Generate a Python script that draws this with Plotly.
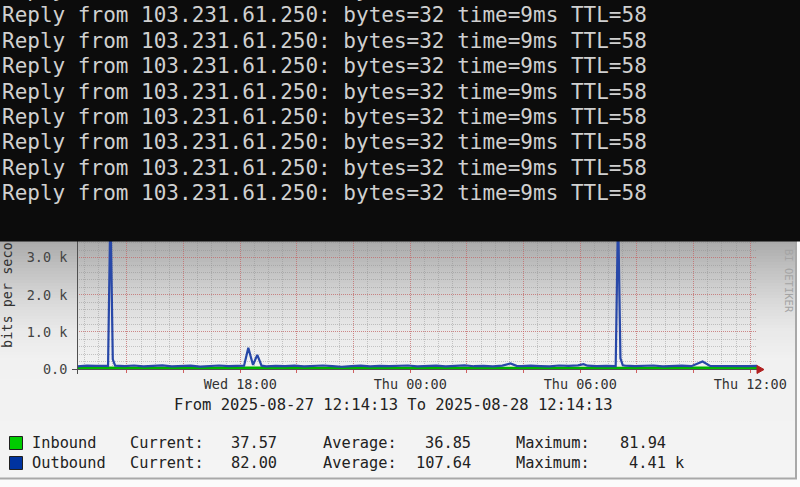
import pandas as pd
import plotly.graph_objects as go

W, H = 800, 487

# ---------------- data ----------------
start_time = "2025-08-27 12:15"
end_range = ["2025-08-27 12:14:13", "2025-08-28 12:14:13"]

# Outbound (bits per second), minutes since start_time
out_minutes = [0, 20, 40, 60, 65, 70, 75, 80, 100, 120, 140, 160, 180, 200, 220, 240,
               260, 280, 300, 320, 340, 353, 362, 372, 381, 390, 400, 420, 440, 460,
               480, 500, 520, 540, 560, 580, 600, 620, 640, 660, 680, 700, 720, 740,
               760, 780, 800, 820, 840, 860, 880, 900, 917, 930, 940, 960, 980, 1000,
               1020, 1040, 1060, 1072, 1080, 1100, 1120, 1140, 1145, 1150, 1155, 1160,
               1180, 1200, 1220, 1240, 1260, 1280, 1300, 1324, 1340, 1360, 1380, 1400,
               1420, 1440]
out_values = [70, 90, 85, 80, 85, 4410, 260, 90, 75, 95, 70, 85, 100, 70, 80, 90,
              65, 85, 95, 75, 80, 90, 570, 110, 380, 90, 70, 85, 75, 90,
              70, 80, 95, 75, 60, 80, 90, 70, 85, 75, 80, 95, 70, 85,
              90, 70, 80, 100, 75, 85, 70, 90, 150, 85, 75, 90, 80, 70,
              95, 85, 100, 130, 90, 75, 85, 80, 4300, 290, 100, 90,
              80, 85, 95, 70, 80, 90, 75, 200, 85, 80, 75, 90,
              80, 85]

# Inbound (bits per second), every 30 minutes since start_time
in_minutes = [0, 30, 60, 90, 120, 150, 180, 210, 240, 270, 300, 330, 360, 390, 420,
              450, 480, 510, 540, 570, 600, 630, 660, 690, 720, 750, 780, 810, 840,
              870, 900, 930, 960, 990, 1020, 1050, 1080, 1110, 1140, 1170, 1200,
              1230, 1260, 1290, 1320, 1350, 1380, 1410, 1440]
in_values = [38, 36, 40, 35, 37, 42, 36, 34, 39, 37, 41, 36, 35, 38, 40,
             37, 36, 39, 38, 35, 37, 40, 36, 38, 34, 37, 39, 36, 38,
             35, 37, 40, 36, 38, 37, 39, 35, 36, 38, 37, 36,
             39, 37, 36, 38, 35, 37, 36, 38]

y_tickvals = [0, 1000, 2000, 3000]
y_ticktext = ["0.0", "1.0 k", "2.0 k", "3.0 k"]
x_tickvals = ["2025-08-27 14:00", "2025-08-27 16:00", "2025-08-27 18:00",
              "2025-08-27 20:00", "2025-08-27 22:00", "2025-08-28 00:00",
              "2025-08-28 02:00", "2025-08-28 04:00", "2025-08-28 06:00",
              "2025-08-28 08:00", "2025-08-28 10:00", "2025-08-28 12:00"]
x_ticktext = ["", "", "Wed 18:00", "", "", "Thu 00:00", "", "", "Thu 06:00",
              "", "", "Thu 12:00"]

terminal_lines = ["Reply from 103.231.61.250: bytes=32 time=9ms TTL=58"] * 9

legend_names = ["Inbound", "Outbound"]
legend_colors = ["#00cc00", "#0033a0"]
current_vals = ["37.57", "82.00"]
average_vals = ["36.85", "107.64"]
maximum_vals = ["81.94", "4.41 k"]

title_text = "From 2025-08-27 12:14:13 To 2025-08-28 12:14:13"

# ---------------- helpers ----------------
def px(x):
    return x / W

def py(y):
    return 1 - y / H

t0 = pd.Timestamp(start_time)
out_t = [t0 + pd.Timedelta(minutes=m) for m in out_minutes]
in_t = [t0 + pd.Timedelta(minutes=m) for m in in_minutes]

MONO = "DejaVu Sans Mono"
PLOT_L, PLOT_R, PLOT_T, PLOT_B = 77, 757, 241, 369
Y_TOP = 3450

fig = go.Figure()
fig.add_trace(go.Scatter(x=in_t, y=in_values, mode="lines", fill="tozeroy",
                         line=dict(color="#00b000", width=2),
                         fillcolor="#00cc00", hoverinfo="skip", showlegend=False))
fig.add_trace(go.Scatter(x=out_t, y=out_values, mode="lines",
                         line=dict(color="#2848a8", width=2.2),
                         hoverinfo="skip", showlegend=False))

shapes = []
# gradient background of the graph image
def grad(y):
    stops = [(241, 170), (270, 194), (300, 216), (330, 233), (360, 241), (480, 244)]
    for (y1, c1), (y2, c2) in zip(stops, stops[1:]):
        if y1 <= y <= y2:
            return int(round(c1 + (c2 - c1) * (y - y1) / (y2 - y1)))
    return 244

yy = 241
while yy < 478:
    c = grad(yy + 1.5)
    shapes.append(dict(type="rect", xref="paper", yref="paper", layer="below",
                       x0=0, x1=px(795), y0=py(min(yy + 3, 478)), y1=py(yy),
                       fillcolor=f"rgb({c},{c},{c})", line=dict(width=0)))
    yy += 3

# border of the graph image
shapes.append(dict(type="line", xref="paper", yref="paper", layer="above",
                   x0=px(796), x1=px(796), y0=py(479), y1=py(241),
                   line=dict(color="#a8a8a8", width=2)))
shapes.append(dict(type="line", xref="paper", yref="paper", layer="above",
                   x0=0, x1=px(797), y0=py(478.5), y1=py(478.5),
                   line=dict(color="#a8a8a8", width=2)))

# axis lines
shapes.append(dict(type="line", xref="paper", yref="paper", layer="above",
                   x0=px(72), x1=px(757), y0=py(369.5), y1=py(369.5),
                   line=dict(color="#505050", width=1)))
shapes.append(dict(type="line", xref="paper", yref="paper", layer="above",
                   x0=px(77.5), x1=px(77.5), y0=py(374), y1=py(241),
                   line=dict(color="#505050", width=1)))
# arrow at the end of the x axis
shapes.append(dict(type="path", xref="paper", yref="paper", layer="above",
                   path=f"M {px(757)} {py(365.5)} L {px(764)} {py(369.5)} L {px(757)} {py(373.5)} Z",
                   fillcolor="#b02020", line=dict(color="#b02020", width=1)))

# terminal window
shapes.append(dict(type="rect", xref="paper", yref="paper", layer="above",
                   x0=0, x1=1, y0=py(241.5), y1=1,
                   fillcolor="#0c0c0c", line=dict(width=0)))

# legend swatches
for i, col in enumerate(legend_colors):
    yc = 443 + i * 20
    shapes.append(dict(type="rect", xref="paper", yref="paper", layer="above",
                       x0=px(9.5), x1=px(22.5), y0=py(yc + 6.5), y1=py(yc - 6.5),
                       fillcolor=col, line=dict(color="#202020", width=1)))

annotations = []
# terminal text
for i, line in enumerate(terminal_lines):
    yc = -10 + i * 25.4
    annotations.append(dict(text=line, xref="paper", yref="paper", x=px(0), y=py(yc),
                            xanchor="left", yanchor="middle", showarrow=False,
                            font=dict(family=MONO, size=21, color="#d0d0d0")))

# y axis title (partially hidden by the terminal)
annotations.append(dict(text="bits per seco", xref="paper", yref="paper",
                        x=px(7), y=py(295), textangle=-90, showarrow=False,
                        xanchor="center", yanchor="middle",
                        font=dict(family=MONO, size=13.5, color="#333333")))
# watermark
annotations.append(dict(text="BI OETIKER", xref="paper", yref="paper",
                        x=px(789), y=py(281), textangle=90, showarrow=False,
                        xanchor="center", yanchor="middle",
                        font=dict(family=MONO, size=10.5, color="#a4a4a4")))
# title
annotations.append(dict(text=title_text, xref="paper", yref="paper",
                        x=px(393), y=py(405), showarrow=False,
                        xanchor="center", yanchor="middle",
                        font=dict(family=MONO, size=15.5, color="#222222")))

# legend texts
lfont = dict(family=MONO, size=15.3, color="#222222")
for i in range(2):
    yc = 443 + i * 20
    annotations.append(dict(text=legend_names[i], x=px(30), y=py(yc), xref="paper", yref="paper",
                            xanchor="left", yanchor="middle", showarrow=False, font=lfont))
    annotations.append(dict(text="Current:", x=px(128), y=py(yc), xref="paper", yref="paper",
                            xanchor="left", yanchor="middle", showarrow=False, font=lfont))
    annotations.append(dict(text=current_vals[i], x=px(279), y=py(yc), xref="paper", yref="paper",
                            xanchor="right", yanchor="middle", showarrow=False, font=lfont))
    annotations.append(dict(text="Average:", x=px(321), y=py(yc), xref="paper", yref="paper",
                            xanchor="left", yanchor="middle", showarrow=False, font=lfont))
    annotations.append(dict(text=average_vals[i], x=px(473), y=py(yc), xref="paper", yref="paper",
                            xanchor="right", yanchor="middle", showarrow=False, font=lfont))
    annotations.append(dict(text="Maximum:", x=px(514), y=py(yc), xref="paper", yref="paper",
                            xanchor="left", yanchor="middle", showarrow=False, font=lfont))
    annotations.append(dict(text=maximum_vals[i], x=px(618), y=py(yc), xref="paper", yref="paper",
                            xanchor="left", yanchor="middle", showarrow=False, font=lfont,
                            xshift=9.2 if maximum_vals[i].endswith("k") else 0))

fig.update_layout(
    template="none",
    width=W, height=H, autosize=False,
    margin=dict(l=0, r=0, t=0, b=0, pad=0, autoexpand=False),
    paper_bgcolor="#fbfbfb",
    plot_bgcolor="rgba(0,0,0,0)",
    showlegend=False,
    shapes=shapes,
    annotations=annotations,
    xaxis=dict(
        domain=[px(PLOT_L), px(PLOT_R)],
        type="date", automargin=False,
        range=end_range,
        tickmode="array", tickvals=x_tickvals, ticktext=x_ticktext,
        ticks="outside", ticklen=3, tickcolor="#d06060", tickwidth=1,
        tickfont=dict(family=MONO, size=13.5, color="#333333"),
        showgrid=True, gridcolor="rgba(215,90,90,0.55)", griddash="1px,1px", gridwidth=1,
        minor=dict(dtick=30 * 60 * 1000, tick0="2025-08-27 12:00",
                   showgrid=True, gridcolor="rgba(140,140,140,0.45)",
                   griddash="1px,1px", gridwidth=1, ticks=""),
        showline=False, zeroline=False, fixedrange=True,
    ),
    yaxis=dict(
        domain=[py(PLOT_B), py(PLOT_T)],
        range=[0, Y_TOP], automargin=False,
        tickmode="array", tickvals=y_tickvals, ticktext=y_ticktext,
        ticks="outside", ticklen=6, tickcolor="rgba(0,0,0,0)",
        tickfont=dict(family=MONO, size=13.5, color="#444444"),
        showgrid=True, gridcolor="rgba(215,90,90,0.55)", griddash="1px,1px", gridwidth=1,
        minor=dict(dtick=200, showgrid=True, gridcolor="rgba(140,140,140,0.45)",
                   griddash="1px,1px", gridwidth=1, ticks=""),
        showline=False, zeroline=False, fixedrange=True,
    ),
)

fig.write_html("out.html")
